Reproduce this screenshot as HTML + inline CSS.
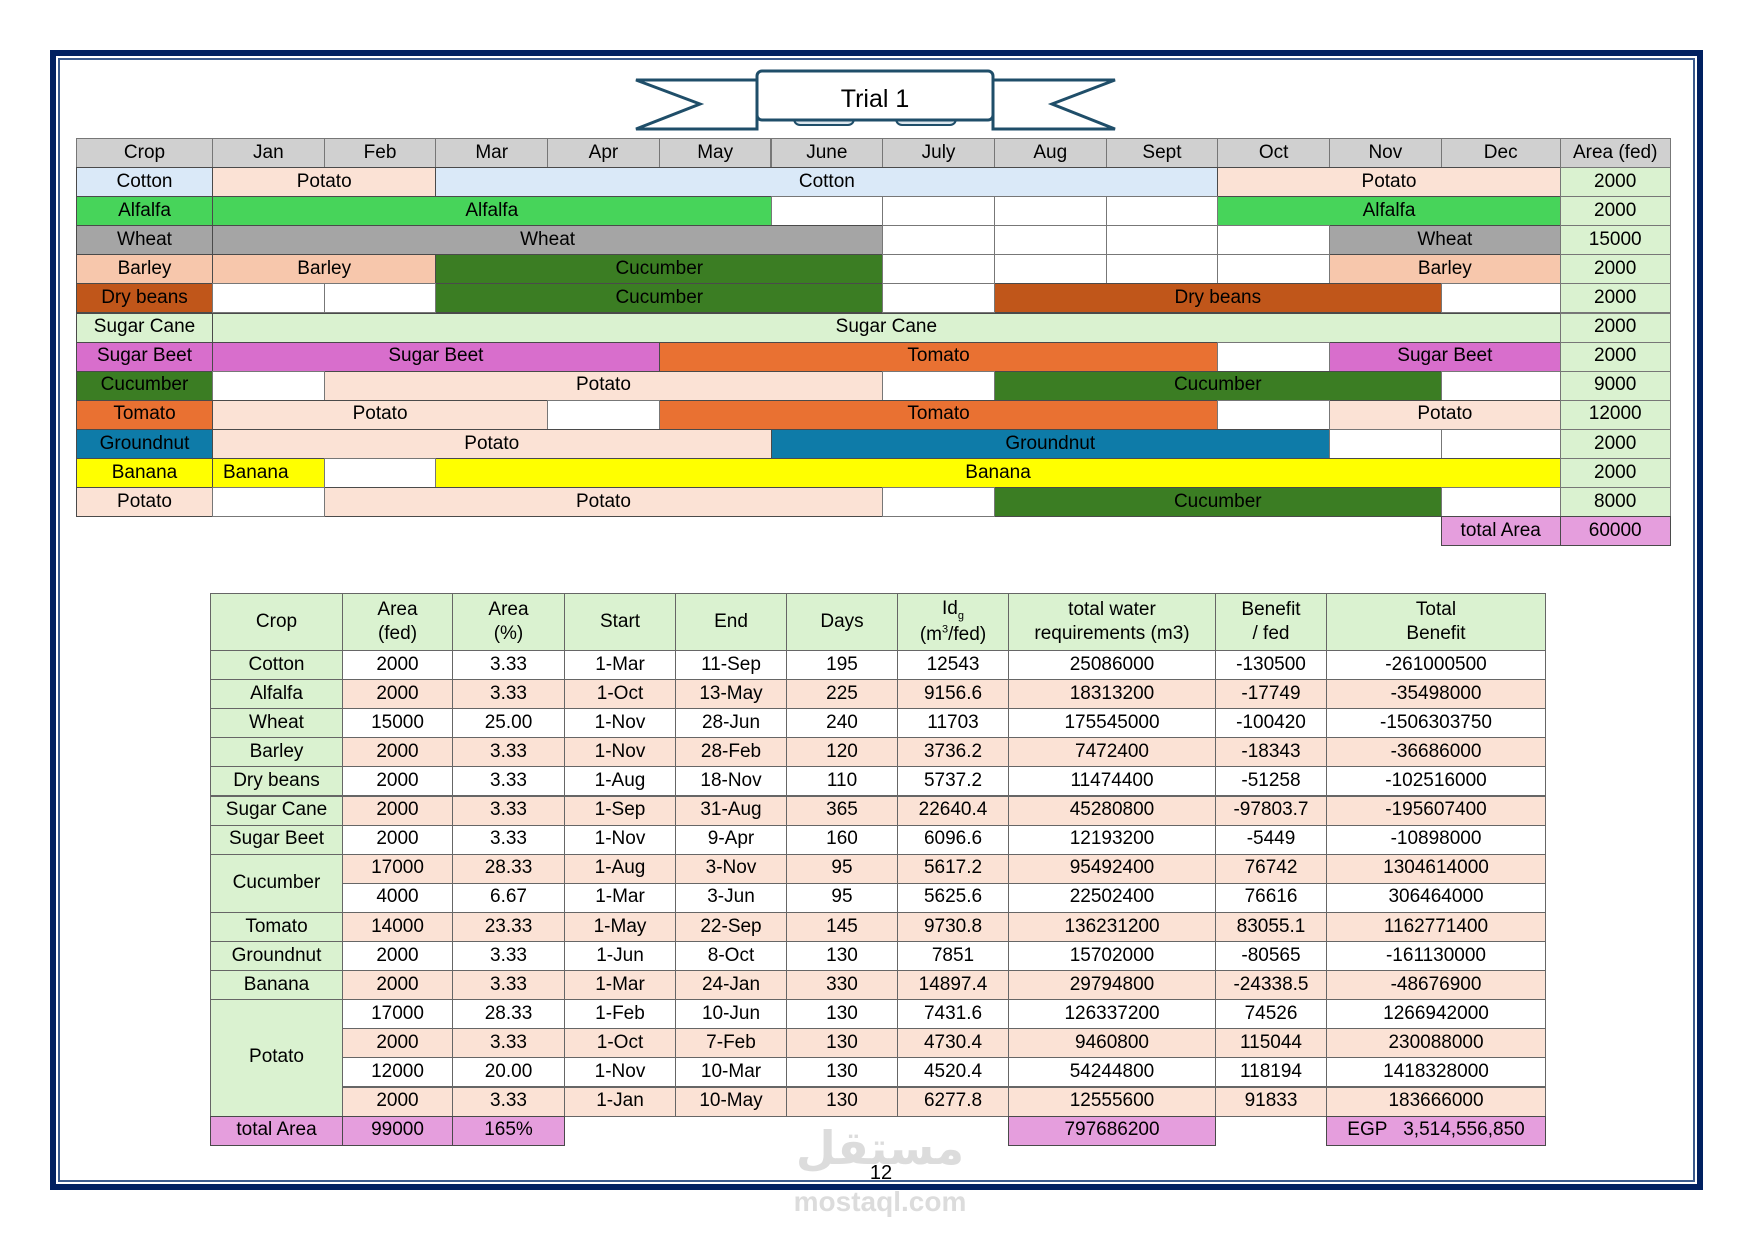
<!DOCTYPE html>
<html><head><meta charset="utf-8"><style>
body{margin:0;background:#fff;}
#page{position:relative;width:1754px;height:1241px;overflow:hidden;background:#fff;font-family:"Liberation Sans","DejaVu Sans",sans-serif;color:#000;}
.c{position:absolute;box-sizing:border-box;display:flex;align-items:center;justify-content:center;text-align:center;font-size:19px;line-height:1.2;white-space:nowrap;overflow:hidden;}
</style></head><body>
<div id="page">
  <div style="position:absolute;left:50px;top:50px;width:1653px;height:1140px;box-sizing:border-box;border:6px solid #002060;"></div>
  <div style="position:absolute;left:58px;top:58px;width:1637px;height:1124px;box-sizing:border-box;border:2px solid #3a5a8c;"></div>
  <svg style="position:absolute;left:0;top:0" width="1754" height="200">
    <polygon points="636,80 757,80 757,129 636,129 700,104" fill="#fff" stroke="#1f4e69" stroke-width="3"/>
    <polygon points="1115,80 993,80 993,129 1115,129 1052,104" fill="#fff" stroke="#1f4e69" stroke-width="3"/>
    <rect x="794" y="113" width="60" height="12" rx="6" fill="#dde7ee" stroke="#1f4e69" stroke-width="2"/>
    <rect x="896" y="113" width="60" height="12" rx="6" fill="#dde7ee" stroke="#1f4e69" stroke-width="2"/>
    <rect x="757" y="71" width="236" height="49" rx="5" fill="#fff" stroke="#1f4e69" stroke-width="3"/>
    <text x="875" y="107" text-anchor="middle" font-family="Liberation Sans, sans-serif" font-size="25">Trial 1</text>
  </svg>
  <div style="position:absolute;left:760px;top:1125px;width:240px;text-align:center;color:#dcdcdc;font-size:46px;font-weight:bold;line-height:1;font-family:'Liberation Sans','DejaVu Sans',sans-serif;">مستقل</div>
  <div style="position:absolute;left:760px;top:1188px;width:240px;text-align:center;color:#dcdcdc;font-size:28px;font-weight:bold;line-height:1;">mostaql.com</div>
  <div style="position:absolute;left:851px;top:1162px;width:60px;text-align:center;font-size:20px;">12</div>
</div>
<script>
var months=["Jan","Feb","Mar","Apr","May","June","July","Aug","Sept","Oct","Nov","Dec"];
var crops=["Cotton","Alfalfa","Wheat","Barley","Dry beans","Sugar Cane","Sugar Beet","Cucumber","Tomato","Groundnut","Banana","Potato"];
var areas=[2000,2000,15000,2000,2000,2000,2000,9000,12000,2000,2000,8000];
var totalArea=60000;
var COL={"Potato":"#fbe2d5","Cotton":"#dae9f8","Alfalfa":"#47d45a","Wheat":"#a5a5a5","Barley":"#f7c7ac","Cucumber":"#3b7d23","Dry beans":"#c0561a","Sugar Cane":"#daf2d0","Sugar Beet":"#d86ecc","Tomato":"#e97132","Groundnut":"#0e7ba8","Banana":"#ffff00"};
var schedule=[
[[0,2,"Potato"],[2,7,"Cotton"],[9,3,"Potato"]],
[[0,5,"Alfalfa"],[9,3,"Alfalfa"]],
[[0,6,"Wheat"],[10,2,"Wheat"]],
[[0,2,"Barley"],[2,4,"Cucumber"],[10,2,"Barley"]],
[[2,4,"Cucumber"],[7,4,"Dry beans"]],
[[0,12,"Sugar Cane"]],
[[0,4,"Sugar Beet"],[4,5,"Tomato"],[10,2,"Sugar Beet"]],
[[1,5,"Potato"],[7,4,"Cucumber"]],
[[0,3,"Potato"],[4,5,"Tomato"],[10,2,"Potato"]],
[[0,5,"Potato"],[5,5,"Groundnut"]],
[[0,1,"Banana"],[2,10,"Banana"]],
[[1,5,"Potato"],[7,4,"Cucumber"]]
];
var page=document.getElementById('page');
function cell(x,y,w,h,txt,bg,name,extra){
  var d=document.createElement('div');
  d.className='c';
  d.style.left=x+'px';d.style.top=y+'px';d.style.width=w+'px';d.style.height=h+'px';
  d.style.background=bg||'#fff';
  d.style.border='1px solid #4a4a4a';
  if(extra)for(var k in extra)d.style[k]=extra[k];
  d.innerHTML='<div>'+txt+'</div>';
  
  
  page.appendChild(d);return d;
}
function slug(s){return String(s).toLowerCase().replace(/<[^>]*>/g,'').replace(/[^a-z0-9]+/g,'-').replace(/^-|-$/g,'');}
var T={x0:76,cropW:136,mW:111.7,decW:119,areaW:111,y0:138,hH:29,rH:29.1};
function mx(i){return T.x0+T.cropW+i*T.mW;}
function mw(start,span){var end=start+span;var xe=end>=12?mx(11)+T.decW:mx(end);return xe-mx(start);}
var areaX=mx(11)+T.decW;
cell(T.x0,T.y0,T.cropW+1,T.hH+1,"Crop","#d0d0d0","header-crop",{borderColor:"#777"});
months.forEach(function(m,i){cell(mx(i),T.y0,mw(i,1)+1,T.hH+1,m,"#d0d0d0","header-"+slug(m),{borderColor:"#777"});});
cell(areaX,T.y0,T.areaW,T.hH+1,"Area (fed)","#d0d0d0","header-area",{borderColor:"#777"});
crops.forEach(function(c,r){
  var y=T.y0+T.hH+r*T.rH;
  cell(T.x0,y,T.cropW+1,T.rH+1,c,COL[c],"crop-label-"+slug(c));
  var occ=[];for(var i=0;i<12;i++)occ.push(false);
  schedule[r].forEach(function(s){
    for(var i=s[0];i<s[0]+s[1];i++)occ[i]=true;
    var ex={};
    if(c==="Banana"&&s[1]===1){ex.justifyContent='flex-start';ex.paddingLeft='10px';}
    cell(mx(s[0]),y,mw(s[0],s[1])+1,T.rH+1,s[2],COL[s[2]],"season-"+slug(c)+"-"+slug(s[2])+"-"+s[0],ex);
  });
  for(var i=0;i<12;i++)if(!occ[i])cell(mx(i),y,mw(i,1)+1,T.rH+1,"","#fff","empty-"+slug(c)+"-"+i,{borderColor:"#777"});
  cell(areaX,y,T.areaW,T.rH+1,areas[r],"#daf2d0","area-"+slug(c),{borderColor:"#777"});
});
var ty=T.y0+T.hH+12*T.rH;
cell(mx(11),ty,T.decW+1,T.rH+1,"total Area","#e59edd","total-area-label");
cell(areaX,ty,T.areaW,T.rH+1,totalArea,"#e59edd","total-area-value");

var headers=["Crop","Area<br>(fed)","Area<br>(%)","Start","End","Days","Id<sub style='font-size:11px'>g</sub><br>(m<sup style='font-size:11px'>3</sup>/fed)","total water<br>requirements (m3)","Benefit<br>/ fed","Total<br>Benefit"];
var colX=[210,342,452,564,675,786,897,1008,1215,1326,1545];
var rowCrop=["Cotton","Alfalfa","Wheat","Barley","Dry beans","Sugar Cane","Sugar Beet","Cucumber","Cucumber","Tomato","Groundnut","Banana","Potato","Potato","Potato","Potato"];
var areaFed=[2000,2000,15000,2000,2000,2000,2000,17000,4000,14000,2000,2000,17000,2000,12000,2000];
var areaPct=["3.33","3.33","25.00","3.33","3.33","3.33","3.33","28.33","6.67","23.33","3.33","3.33","28.33","3.33","20.00","3.33"];
var startD=["1-Mar","1-Oct","1-Nov","1-Nov","1-Aug","1-Sep","1-Nov","1-Aug","1-Mar","1-May","1-Jun","1-Mar","1-Feb","1-Oct","1-Nov","1-Jan"];
var endD=["11-Sep","13-May","28-Jun","28-Feb","18-Nov","31-Aug","9-Apr","3-Nov","3-Jun","22-Sep","8-Oct","24-Jan","10-Jun","7-Feb","10-Mar","10-May"];
var days=[195,225,240,120,110,365,160,95,95,145,130,330,130,130,130,130];
var idg=["12543","9156.6","11703","3736.2","5737.2","22640.4","6096.6","5617.2","5625.6","9730.8","7851","14897.4","7431.6","4730.4","4520.4","6277.8"];
var water=[25086000,18313200,175545000,7472400,11474400,45280800,12193200,95492400,22502400,136231200,15702000,29794800,126337200,9460800,54244800,12555600];
var benefit=["-130500","-17749","-100420","-18343","-51258","-97803.7","-5449","76742","76616","83055.1","-80565","-24338.5","74526","115044","118194","91833"];
var totalBen=["-261000500","-35498000","-1506303750","-36686000","-102516000","-195607400","-10898000","1304614000","306464000","1162771400","-161130000","-48676900","1266942000","230088000","1418328000","183666000"];
var B={y0:593,hH:57,rH:29.1};
headers.forEach(function(h,i){cell(colX[i],B.y0,colX[i+1]-colX[i]+1,B.hH+1,h,"#daf2d0","table-header-"+(slug(h)||i),{whiteSpace:'nowrap',lineHeight:'1.25',borderColor:'#666'});});
var r=0;
while(r<rowCrop.length){
  var n=1;while(r+n<rowCrop.length&&rowCrop[r+n]===rowCrop[r])n++;
  cell(colX[0],B.y0+B.hH+r*B.rH,colX[1]-colX[0]+1,n*B.rH+1,rowCrop[r],"#daf2d0","row-crop-"+slug(rowCrop[r]),{borderColor:'#666'});
  r+=n;
}
for(var i=0;i<rowCrop.length;i++){
  var y=B.y0+B.hH+i*B.rH;var bg=i%2?"#fbe2d5":"#fff";
  var vals=[areaFed[i],areaPct[i],startD[i],endD[i],days[i],idg[i],water[i],benefit[i],totalBen[i]];
  var nm=["area-fed","area-pct","start","end","days","idg","water","benefit","total-benefit"];
  for(var j=0;j<9;j++)cell(colX[j+1],y,colX[j+2]-colX[j+1]+1,B.rH+1,vals[j],bg,nm[j]+"-row-"+i,{borderColor:'#666'});
}
var by=B.y0+B.hH+16*B.rH;
cell(colX[0],by,colX[1]-colX[0]+1,B.rH+1,"total Area","#e59edd","sum-label");
cell(colX[1],by,colX[2]-colX[1]+1,B.rH+1,"99000","#e59edd","sum-area-fed");
cell(colX[2],by,colX[3]-colX[2]+1,B.rH+1,"165%","#e59edd","sum-area-pct");
cell(colX[7],by,colX[8]-colX[7]+1,B.rH+1,"797686200","#e59edd","sum-water");
cell(colX[9],by,colX[10]-colX[9]+1,B.rH+1,"EGP&nbsp;&nbsp;&nbsp;3,514,556,850","#e59edd","sum-total-benefit");
</script>
</body></html>
